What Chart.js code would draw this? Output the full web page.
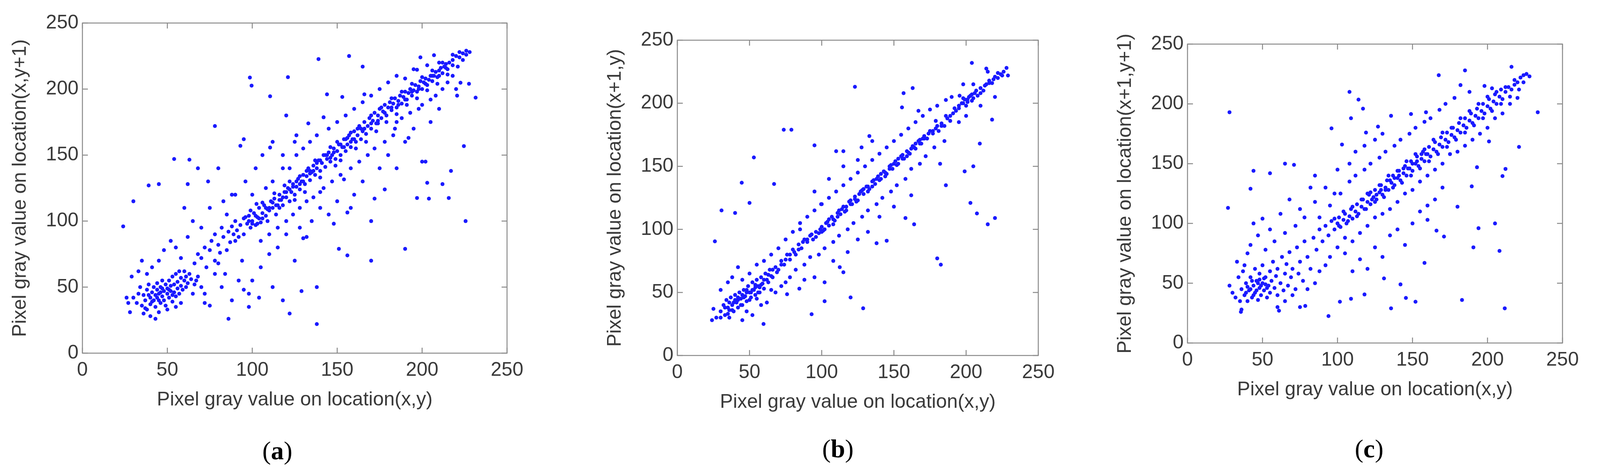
<!DOCTYPE html>
<html><head><meta charset="utf-8">
<script src="https://cdn.jsdelivr.net/npm/chart.js@4"></script>
<style>
body{margin:0;background:#fff;width:4256px;height:1207px;position:relative;overflow:hidden}
.p{position:absolute}
.lab{position:absolute;font-family:"Liberation Serif",serif;font-size:66px;color:#000;transform:translate(-50%,-50%)}
</style></head><body>
<div class="p" id="pa"><canvas id="ca"></canvas></div>
<div class="p" id="pb"><canvas id="cb"></canvas></div>
<div class="p" id="pc"><canvas id="cc"></canvas></div>
<div class="lab" style="left:710px;top:1155px">(<b>a</b>)</div>
<div class="lab" style="left:2145px;top:1150px">(<b>b</b>)</div>
<div class="lab" style="left:3505px;top:1150px">(<b>c</b>)</div>
<script>
const tickValues=[0,50,100,150,200,250];
const xTitle="Pixel gray value on location(x,y)";
const yTitles=["Pixel gray value on location(x,y+1)","Pixel gray value on location(x+1,y)","Pixel gray value on location(x+1,y+1)"];

const aCluster=[[30,42],[32,38],[33,45],[34,50],[35,36],[36,44],[37,40],[38,48],[38,33],[39,52],[40,42],[40,37],[41,46],[42,50],[42,40],[43,35],[43,44],[44,48],[44,53],[45,40],[45,45],[46,38],[46,50],[47,43],[47,55],[48,47],[48,40],[49,52],[49,36],[50,45],[50,49],[51,42],[51,55],[52,47],[52,51],[53,39],[53,58],[54,46],[54,52],[55,43],[55,60],[56,49],[56,54],[57,45],[57,62],[58,51],[58,57],[59,48],[60,55],[60,62],[61,50],[61,58],[62,53],[63,60],[64,56],[28,31],[27,38],[26,42],[29,58],[33,62],[36,30],[40,28],[43,26],[45,31],[50,33],[55,35],[58,38],[65,45],[66,52],[68,58],[70,50],[72,38],[75,36],[41,65],[45,70],[48,78],[52,85],[55,80],[58,72],[62,88],[35,70],[38,60],[39,44],[44,42],[47,49],[51,48],[53,44],[41,39],[37,34],[46,46]];
const aTransition=[[66,68],[68,75],[70,72],[72,80],[73,65],[75,78],[76,85],[78,70],[78,90],[80,82],[81,76],[82,95],[83,88],[84,60],[85,78],[86,92],[87,84],[88,96],[89,90],[90,85],[90,100],[91,93],[92,88],[93,97],[94,70],[95,102],[95,90],[70,95],[65,100],[60,110],[75,110],[78,60],[82,50],[88,40],[92,55],[95,48],[98,35],[67,55],[72,45],[80,68],[85,105],[88,120],[74,130],[68,140],[62,128],[80,140],[83,115]];
const aBand=[[97,98],[98,104],[99,95],[100,100],[101,106],[102,97],[103,103],[104,110],[105,99],[106,106],[107,112],[108,104],[109,100],[110,108],[111,115],[112,110],[113,117],[114,105],[115,112],[116,120],[117,116],[118,112],[119,122],[120,118],[121,125],[122,115],[123,122],[124,128],[125,120],[126,126],[127,132],[128,124],[129,130],[130,135],[131,128],[132,134],[133,140],[134,131],[135,137],[136,142],[137,135],[138,140],[139,146],[140,138],[141,144],[142,150],[143,141],[144,147],[145,152],[146,145],[147,150],[148,155],[149,147],[150,153],[151,158],[152,150],[153,156],[154,162],[155,153],[156,158],[157,165],[158,156],[159,162],[160,168],[161,160],[162,165],[163,172],[164,162],[165,168],[166,175],[167,166],[168,172],[169,178],[170,170],[171,176],[172,182],[173,174],[174,180],[175,185],[176,178],[177,183],[178,188],[179,180],[180,186],[181,190],[182,184],[183,189],[184,193],[185,186],[186,191],[187,195],[188,189],[189,194],[190,198],[191,192],[192,197],[193,200],[194,195],[195,199],[196,203],[197,198],[198,202],[199,206],[200,200],[201,205],[202,208],[203,203],[204,207],[205,210],[206,206],[207,210],[208,213],[209,209],[210,214],[211,216],[212,212],[213,217],[214,219],[215,215],[216,220],[218,222],[220,225],[222,228],[224,227],[226,229],[228,228]];
const aBand2=[[96,103],[99,108],[103,98],[106,114],[109,109],[113,121],[116,110],[119,127],[122,130],[125,116],[128,134],[131,122],[134,138],[137,146],[140,133],[143,150],[146,156],[149,142],[152,146],[155,162],[158,167],[161,155],[164,170],[167,160],[170,180],[173,168],[176,186],[179,175],[182,193],[185,181],[188,198],[191,188],[194,204],[197,193],[200,209],[203,199],[206,214],[209,204],[212,220],[215,211],[218,226],[221,217],[224,222],[226,226],[150,160],[152,158],[154,156],[156,163],[158,160],[160,162],[162,170],[144,150],[146,148],[148,152],[140,146],[138,144],[136,138],[134,136],[132,138],[130,130],[128,128],[126,130],[124,126],[122,124],[120,122],[118,118],[116,116],[114,112],[112,114],[110,110],[108,110],[106,102],[104,102],[102,104],[100,98],[98,100],[166,170],[170,174],[174,176],[178,182],[182,186],[186,188],[190,192],[194,198],[198,200],[202,204],[206,210],[210,210],[214,216],[218,218],[222,224]];
const aScatter=[[100,120],[105,85],[108,125],[110,90],[112,130],[115,95],[118,140],[120,100],[122,140],[124,105],[126,150],[128,110],[130,155],[132,115],[134,160],[136,118],[138,165],[140,122],[142,125],[145,170],[147,130],[150,175],[152,135],[155,180],[158,140],[160,185],[163,145],[165,190],[168,150],[170,195],[172,155],[175,200],[178,160],[180,205],[183,165],[185,175],[188,178],[190,208],[193,182],[195,215],[198,185],[200,188],[203,218],[205,192],[208,195],[210,220],[212,200],[215,205],[218,210],[220,200],[140,110],[135,100],[128,95],[120,90],[115,80],[110,75],[105,65],[100,55],[98,45],[104,42],[112,50],[118,40],[125,70],[132,88],[145,105],[150,115],[160,120],[165,130],[158,110],[175,140],[180,150],[190,160],[195,170],[200,145],[205,175],[210,185],[102,140],[106,150],[96,130],[90,120],[112,160],[118,150],[125,160]];
const aOutliers=[[98.6,208.7],[99.6,202.6],[121,209],[110.5,194.5],[139,222.7],[157,225],[165,217],[78,172],[120,180],[231.5,193.5],[224.6,156.8],[225.6,100],[190,79],[170,70],[156,74],[151,79],[138,22],[122,30],[86,26],[138,50],[129,47],[24,96],[30,115],[54,147],[63,146.5],[39,127],[45,128],[215.7,117.5],[197,117.5],[204,117],[212,128],[217,138],[202,145],[203,129],[154,131.6],[170,100],[148,98],[130,87],[156,106.5],[172,117],[178,124],[185,140],[93,157],[102.5,113],[95,162],[110.5,155.7],[126,165],[133,174],[142,178.6],[144,196],[153,194],[166,196],[185,210],[199,224],[207,225.6],[197,214.6],[220.6,195],[222.6,204.8],[227.6,204],[174,174],[184,170],[192,163]];

const bBand=[[25,37],[27,30],[30,35],[32,40],[33,32],[34,44],[35,38],[36,30],[37,46],[38,40],[39,35],[40,48],[41,42],[42,38],[43,50],[44,45],[45,40],[46,52],[47,47],[48,43],[49,55],[50,50],[51,46],[52,58],[53,52],[54,48],[55,60],[56,55],[57,50],[58,62],[59,57],[60,53],[61,65],[62,60],[63,58],[64,68],[65,63],[66,62],[68,70],[70,68],[72,75],[74,72],[76,80],[78,76],[80,84],[82,80],[84,88],[86,85],[88,92],[90,90],[92,95],[94,92],[96,98],[98,97],[100,102],[101,99],[103,105],[105,103],[107,110],[109,107],[111,113],[113,112],[115,118],[117,115],[119,122],[121,120],[123,126],[125,123],[127,130],[129,128],[131,134],[133,132],[135,138],[137,136],[139,142],[141,140],[143,146],[145,144],[147,150],[149,148],[151,154],[153,152],[155,158],[157,156],[159,162],[161,160],[163,166],[165,164],[167,170],[169,168],[171,174],[173,172],[175,178],[177,176],[179,180],[181,178],[183,184],[185,182],[187,188],[189,186],[191,192],[193,194],[195,198],[197,200],[199,203],[200,198],[202,205],[204,202],[206,208],[208,206],[210,212],[212,210],[214,215],[216,218],[218,216],[220,221],[222,220],[224,223],[226,225],[228,228],[229,222],[36,42],[40,44],[44,40],[46,46],[48,50],[50,44],[52,52],[54,54],[56,50],[58,56],[42,46],[38,36],[35,33],[100,98],[104,106],[108,104],[112,115],[116,114],[120,123],[124,122],[128,131],[132,130],[136,139],[140,139],[144,145],[148,151],[152,151],[156,159],[160,161],[164,165],[168,171],[170,172],[198,204],[201,201],[203,206],[205,204]];
const bBand2=[[30,30],[33,38],[36,36],[39,42],[42,44],[45,48],[48,52],[51,50],[54,56],[57,54],[60,60],[63,64],[66,68],[69,66],[72,72],[75,76],[78,80],[81,82],[84,84],[87,90],[90,92],[93,96],[96,94],[99,100],[102,100],[105,108],[108,108],[111,110],[114,116],[117,118],[120,120],[123,124],[126,128],[129,132],[132,134],[135,134],[138,140],[141,144],[144,142],[147,148],[150,152],[153,156],[156,156],[159,158],[162,164],[165,168],[168,168],[171,172],[174,176],[177,178],[180,182],[183,182],[186,190],[189,190],[192,196],[195,196],[198,200],[201,203],[204,207],[207,210],[210,208],[213,214],[216,216],[219,219],[222,224],[225,222]];
const bScatter=[[30,52],[35,58],[38,62],[42,70],[45,28],[48,35],[50,65],[52,32],[55,72],[58,40],[60,75],[62,42],[65,80],[68,50],[70,85],[72,55],[75,92],[78,62],[80,98],[82,68],[85,105],[88,72],[90,110],[92,78],[95,115],[98,80],[100,120],[102,85],[105,125],[108,90],[110,130],[112,95],[115,135],[118,100],[120,140],[122,105],[125,145],[128,110],[130,150],[132,115],[135,155],[138,120],[140,160],[142,125],[145,165],[148,130],[150,170],[152,135],[155,175],[158,140],[160,180],[162,148],[165,185],[168,152],[170,190],[172,158],[175,195],[178,165],[180,198],[185,170],[190,205],[195,185],[198,215],[200,190],[205,215],[210,198],[215,225],[220,205],[88,60],[95,62],[102,58],[108,75],[118,82],[125,92],[132,98],[140,110],[150,118],[45,60],[55,45],[65,52],[75,58],[85,100],[95,130],[105,140],[115,150],[125,155],[135,170]];
const bOutliers=[[123,213],[73.7,179],[79,179],[95,166.6],[44.6,137],[53,157],[67,136],[30.6,115],[40,113],[50,121],[26,90.5],[180,77],[182.5,72],[128.7,37.4],[93,32.7],[59.7,25],[24,28],[203,121],[207.5,112.6],[215,104],[220,109],[199,146],[205,150],[209.5,168],[218,187],[204,232],[214,227.5],[163,212],[156.7,208],[162,127],[164,104],[158,109],[186,135],[182,152],[138,89],[145,91],[112.5,70],[115,66],[102,43],[120,46],[76,48.6],[84.5,53],[99.6,120],[110,162],[115,162],[127.6,165],[133,174],[155.6,196.7],[167,194],[186,202.6],[195.5,206],[179,186]];

const cCluster=[[28,48],[30,42],[32,38],[34,55],[35,35],[36,45],[37,60],[38,40],[39,50],[40,35],[41,44],[42,55],[43,38],[44,48],[45,62],[45,42],[46,52],[47,36],[48,46],[48,58],[49,40],[50,50],[50,65],[51,44],[52,55],[53,38],[54,48],[55,60],[55,42],[56,52],[57,68],[58,46],[59,56],[60,40],[60,62],[62,50],[63,72],[64,44],[65,58],[66,66],[67,48],[68,76],[69,55],[70,62],[72,45],[73,80],[74,58],[75,68],[77,52],[78,85],[80,72],[82,62],[84,88],[86,78],[88,95],[90,85],[92,98],[94,90],[96,102],[98,95],[40,75],[42,82],[44,100],[47,90],[50,104],[52,78],[55,95],[58,85],[62,108],[65,92],[68,120],[72,98],[75,112],[78,105],[82,130],[85,118],[60,30],[65,35],[70,40],[75,30],[80,45],[85,50],[88,60],[92,65],[95,72],[36,28],[38,65],[33,68],[40,47],[43,52],[46,44],[49,48],[51,54],[53,46],[47,50],[44,40],[39,42],[52,49],[48,53],[42,45]];
const cBand=[[100,100],[101,105],[102,97],[104,103],[105,108],[106,100],[108,106],[109,112],[110,104],[112,110],[113,116],[114,108],[116,114],[117,120],[118,112],[120,118],[121,124],[122,116],[124,122],[125,128],[126,120],[128,126],[129,132],[130,124],[132,130],[133,136],[134,128],[136,134],[137,140],[138,132],[140,138],[141,144],[142,136],[144,142],[145,148],[146,140],[148,146],[149,152],[150,144],[152,150],[153,156],[154,148],[156,154],[157,160],[158,152],[160,158],[161,164],[162,156],[164,162],[165,168],[166,160],[168,166],[169,172],[170,164],[172,170],[173,176],[174,168],[176,174],[177,180],[178,172],[180,178],[181,184],[182,176],[184,182],[185,188],[186,180],[188,186],[189,192],[190,184],[192,190],[193,196],[194,188],[196,194],[197,200],[198,192],[200,198],[201,204],[202,196],[204,202],[205,208],[206,200],[208,206],[209,212],[210,204],[212,210],[214,214],[216,212],[218,216],[220,218],[222,222],[224,218],[226,225]];
const cBand2=[[98,104],[101,98],[104,110],[107,102],[110,114],[113,106],[116,120],[119,112],[122,126],[125,118],[128,132],[131,122],[134,140],[137,130],[140,144],[143,134],[146,152],[149,140],[152,158],[155,146],[158,162],[161,152],[164,170],[167,158],[170,176],[173,164],[176,180],[179,170],[182,188],[185,176],[188,194],[191,182],[194,200],[197,188],[200,206],[203,194],[206,210],[209,200],[212,214],[215,206],[218,220],[221,212],[224,224],[120,125],[123,120],[126,124],[129,128],[132,128],[135,136],[138,138],[141,140],[144,146],[147,146],[150,150],[153,152],[156,158],[159,158]];
const cScatter=[[100,80],[102,125],[105,88],[108,135],[110,85],[112,140],[115,92],[118,145],[120,98],[122,150],[125,105],[128,155],[130,108],[132,160],[135,112],[138,165],[140,118],[142,170],[145,125],[148,175],[150,128],[152,180],[155,135],[158,185],[160,140],[162,188],[165,145],[168,195],[170,150],[172,200],[175,158],[178,205],[180,160],[185,165],[188,210],[190,170],[195,175],[198,215],[200,180],[205,188],[210,192],[215,200],[220,205],[115,70],[120,62],[125,80],[130,72],[135,90],[140,95],[145,82],[150,100],[155,110],[160,115],[165,120],[170,130],[110,60],[105,75],[95,115],[98,125],[92,130],[88,105],[85,140],[100,145],[108,150],[112,160],[118,165],[125,170],[130,175]];
const cOutliers=[[28,193],[27,113],[44,144],[42,129],[55,142],[65,150],[71,149],[96,179.5],[108,210],[114,203.6],[117,196],[103,166],[109,188],[119,176],[127,181],[135.7,190],[149,191.5],[159,193],[167.5,224],[182,215.7],[185,228],[203,213],[216,231],[228,223],[233.5,193],[221,164],[210,139.6],[212,145.6],[193,147],[201,168.6],[189.5,131],[180,114],[160,103],[166,94],[171,89],[194,96],[205,100],[190.6,80],[208,77],[158,67],[183,36],[211.5,29],[152,34.5],[145.6,37.7],[135.7,29],[94,22.5],[101.6,34.5],[78.5,31],[61,27],[35.6,26],[142,49],[131,54],[118,40.6],[109,37]];

const panels=[
 {id:'a',L:211,R:1298,T:49,B:905,title:yTitles[0],sets:[aCluster,aTransition,aBand,aBand2,aScatter,aOutliers]},
 {id:'b',L:1734,R:2658,T:93,B:911,title:yTitles[1],sets:[bBand,bBand2,bScatter,bOutliers]},
 {id:'c',L:3040,R:4000,T:103,B:879,title:yTitles[2],sets:[cCluster,cBand,cBand2,cScatter,cOutliers]}
];
const YW=195,XH=150,PT=30,PR=70;
const frame={id:'frame',afterDatasetsDraw(ch){
 const c=ch.ctx,a=ch.chartArea,xs=ch.scales.x,ys=ch.scales.y;
 c.save();c.strokeStyle='#8a8a8a';c.lineWidth=2.5;
 c.strokeRect(a.left,a.top,a.right-a.left,a.bottom-a.top);
 const t=14;c.beginPath();
 tickValues.forEach(v=>{const x=xs.getPixelForValue(v),y=ys.getPixelForValue(v);
  c.moveTo(x,a.bottom);c.lineTo(x,a.bottom-t);c.moveTo(x,a.top);c.lineTo(x,a.top+t);
  c.moveTo(a.left,y);c.lineTo(a.left+t,y);c.moveTo(a.right,y);c.lineTo(a.right-t,y);});
 c.stroke();c.restore();}};
panels.forEach(p=>{
 const w=p.R-p.L,h=p.B-p.T;
 const div=document.getElementById('p'+p.id);
 Object.assign(div.style,{left:(p.L-YW)+'px',top:(p.T-PT)+'px',width:(w+YW+PR)+'px',height:(h+PT+XH)+'px'});
 const font={family:'"Liberation Sans",Arial,sans-serif',size:50};
 const ax=(title)=>({type:'linear',min:0,max:250,
   afterBuildTicks(s){s.ticks=tickValues.map(v=>({value:v}));},
   grid:{display:false,drawTicks:false},border:{display:false},
   ticks:{font,color:'#3a3a3a',padding:14},
   title:{display:true,text:title,font,color:'#3a3a3a',padding:{top:6,bottom:0}}});
 const xo=ax(xTitle);xo.afterFit=s=>{s.height=XH;};
 const yo=ax(p.title);yo.afterFit=s=>{s.width=YW;};yo.ticks.padding=10;
 new Chart(document.getElementById('c'+p.id),{type:'scatter',
  data:{datasets:p.sets.map(s=>({data:s.map(q=>({x:q[0],y:q[1]})),pointRadius:5,pointBackgroundColor:'#1a1aff',pointBorderWidth:0}))},
  options:{responsive:true,maintainAspectRatio:false,animation:false,
   layout:{padding:{top:PT,right:PR,left:0,bottom:0}},
   plugins:{legend:{display:false},tooltip:{enabled:false}},
   scales:{x:xo,y:yo}},plugins:[frame]});
});
</script></body></html>
